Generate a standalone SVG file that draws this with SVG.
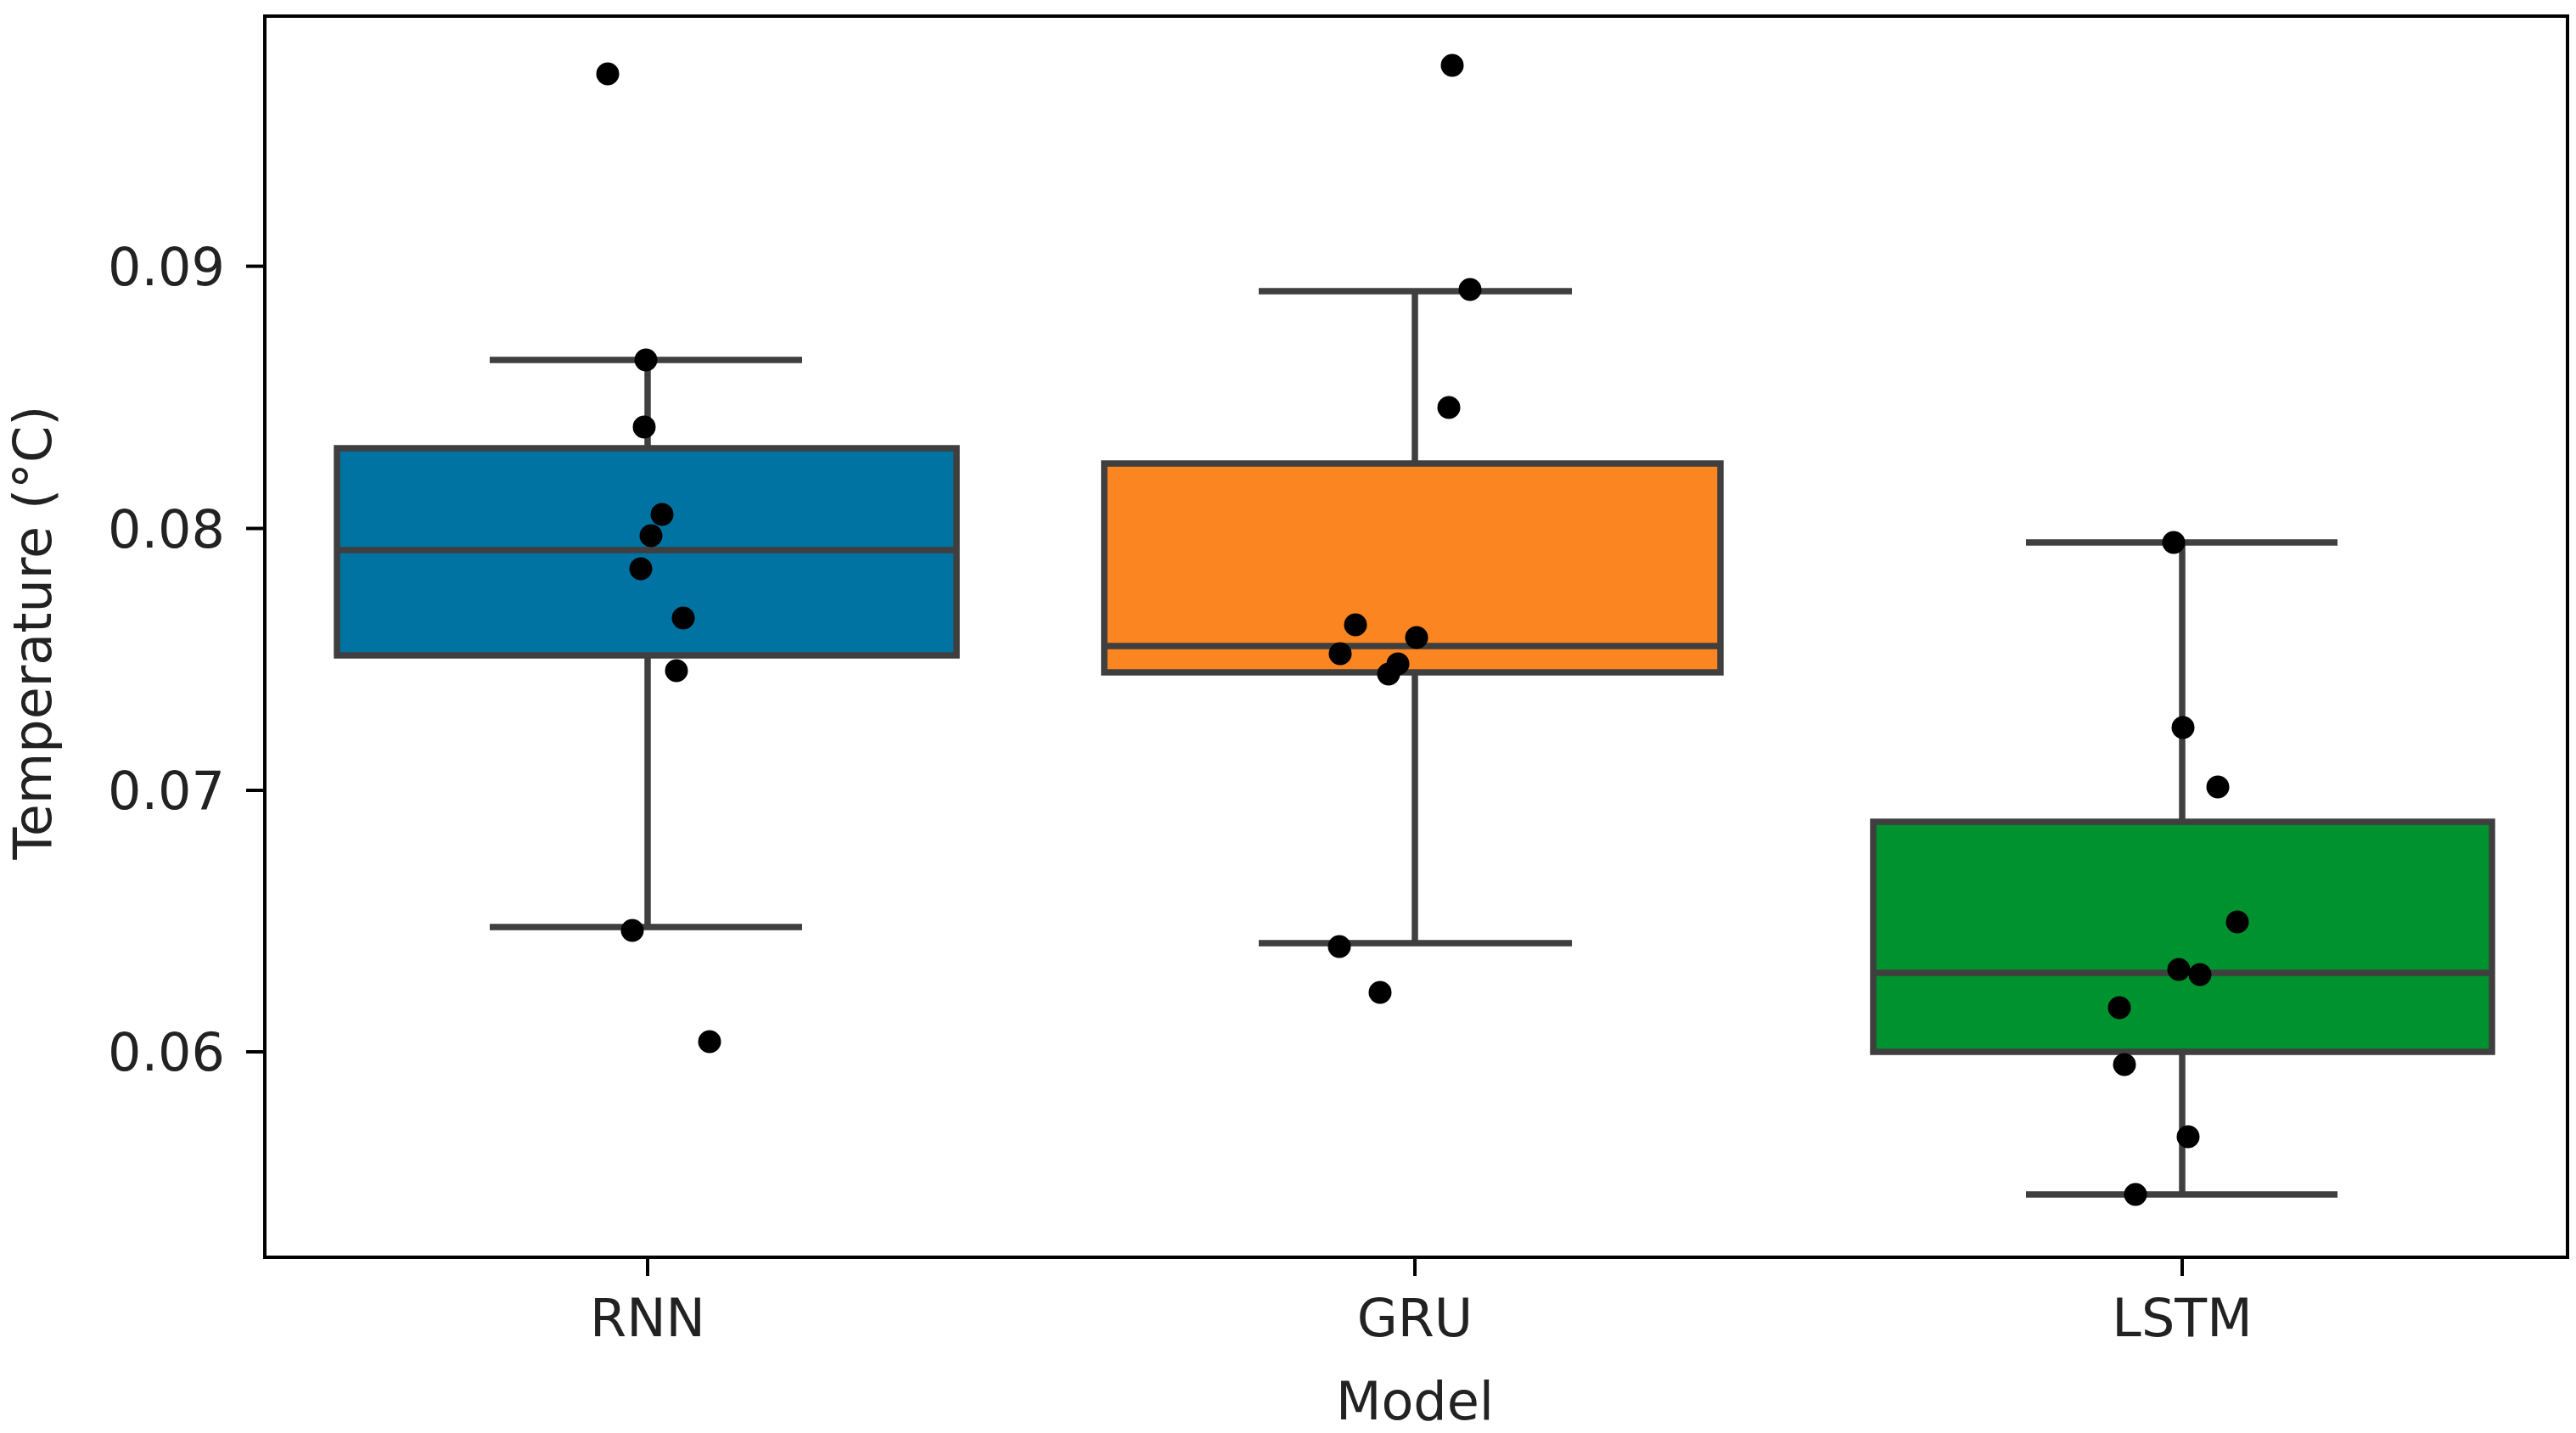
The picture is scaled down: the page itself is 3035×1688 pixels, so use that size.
<svg xmlns="http://www.w3.org/2000/svg" width="3035" height="1688" viewBox="0 0 3035 1688">
<style>
text{font-family:"DejaVu Sans",sans-serif;font-size:62px;fill:#222}
.b{stroke:#3f3f3f;stroke-width:7.5;fill:none}
.pt{fill:#000}
</style>
<rect width="3035" height="1688" fill="#fff"/>
<g id="axes">
<rect x="312" y="19" width="2713" height="1462" fill="none" stroke="#000" stroke-width="4"/>
<g stroke="#000" stroke-width="4">
<line x1="290" y1="313.6" x2="312" y2="313.6"/><line x1="290" y1="622.5" x2="312" y2="622.5"/>
<line x1="290" y1="931" x2="312" y2="931"/><line x1="290" y1="1239" x2="312" y2="1239"/>
<line x1="763" y1="1481" x2="763" y2="1503"/><line x1="1667" y1="1481" x2="1667" y2="1503"/><line x1="2571" y1="1481" x2="2571" y2="1503"/>
</g>
<g text-anchor="end">
<text x="265" y="336">0.09</text><text x="265" y="645">0.08</text><text x="265" y="953">0.07</text><text x="265" y="1261">0.06</text>
</g>
<g text-anchor="middle">
<text x="763" y="1574">RNN</text><text x="1667" y="1574">GRU</text><text x="2571" y="1574">LSTM</text>
<text x="1667" y="1672">Model</text>
<text transform="translate(60,745) rotate(-90)">Temperature (°C)</text>
</g>
</g>
<g id="rnn">
<line class="b" x1="763" y1="424" x2="763" y2="528"/><line class="b" x1="763" y1="772" x2="763" y2="1092"/>
<line class="b" x1="577" y1="424" x2="945" y2="424"/><line class="b" x1="577" y1="1092" x2="945" y2="1092"/>
<rect class="b" x="397" y="528" width="730" height="244" fill="#0173a3" style="fill:#0173a3"/>
<line class="b" x1="397" y1="648" x2="1127" y2="648"/>
<g class="pt"><circle cx="716" cy="87" r="13.5"/><circle cx="761" cy="424" r="13.5"/><circle cx="759" cy="503" r="13.5"/><circle cx="780" cy="606" r="13.5"/><circle cx="767" cy="631" r="13.5"/><circle cx="755" cy="670" r="13.5"/><circle cx="805" cy="728" r="13.5"/><circle cx="797" cy="790" r="13.5"/><circle cx="745" cy="1096" r="13.5"/><circle cx="836" cy="1227" r="13.5"/></g>
</g>
<g id="gru">
<line class="b" x1="1667" y1="343" x2="1667" y2="546"/><line class="b" x1="1667" y1="792" x2="1667" y2="1111"/>
<line class="b" x1="1483" y1="343" x2="1852" y2="343"/><line class="b" x1="1483" y1="1111" x2="1852" y2="1111"/>
<rect class="b" x="1301" y="546" width="726" height="246" style="fill:#fb8520"/>
<line class="b" x1="1301" y1="761" x2="2027" y2="761"/>
<g class="pt"><circle cx="1711" cy="77" r="13.5"/><circle cx="1732" cy="341" r="13.5"/><circle cx="1707" cy="480" r="13.5"/><circle cx="1597" cy="736" r="13.5"/><circle cx="1579" cy="770" r="13.5"/><circle cx="1669" cy="751" r="13.5"/><circle cx="1647" cy="782" r="13.5"/><circle cx="1636" cy="794" r="13.5"/><circle cx="1578" cy="1115" r="13.5"/><circle cx="1626" cy="1169" r="13.5"/></g>
</g>
<g id="lstm">
<line class="b" x1="2571" y1="639" x2="2571" y2="968"/><line class="b" x1="2571" y1="1239" x2="2571" y2="1407"/>
<line class="b" x1="2387" y1="639" x2="2754" y2="639"/><line class="b" x1="2387" y1="1407" x2="2754" y2="1407"/>
<rect class="b" x="2207" y="968" width="729" height="271" style="fill:#00922f"/>
<line class="b" x1="2207" y1="1146" x2="2936" y2="1146"/>
<g class="pt"><circle cx="2561" cy="639" r="13.5"/><circle cx="2572" cy="857" r="13.5"/><circle cx="2613" cy="927" r="13.5"/><circle cx="2636" cy="1086" r="13.5"/><circle cx="2567" cy="1142" r="13.5"/><circle cx="2592" cy="1148" r="13.5"/><circle cx="2497" cy="1187" r="13.5"/><circle cx="2503" cy="1254" r="13.5"/><circle cx="2578" cy="1339" r="13.5"/><circle cx="2516" cy="1407" r="13.5"/></g>
</g>
</svg>
